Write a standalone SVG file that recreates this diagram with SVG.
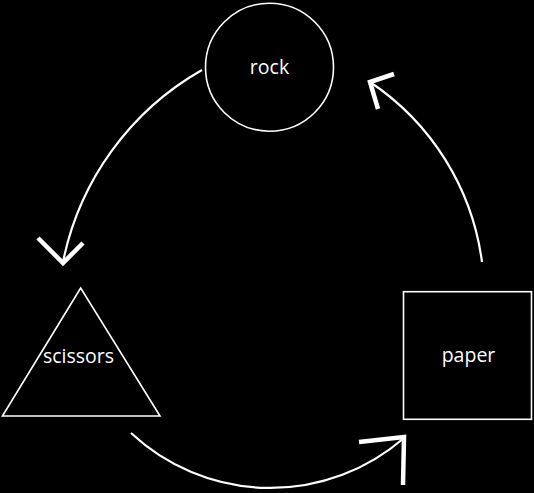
<svg xmlns="http://www.w3.org/2000/svg" width="534" height="493" viewBox="0 0 534 493">
  <style>
    .shape { fill: #000; stroke: #fff; stroke-width: 1.6; }
    .label { fill: #fff; font-family: "Open Sans", "Liberation Sans", sans-serif; font-size: 19.5px; text-anchor: middle; }
    .line { fill: none; stroke: #fff; stroke-width: 2.2; }
    .head { fill: none; stroke: #fff; stroke-width: 4.5; stroke-linejoin: miter; stroke-linecap: butt; }
  </style>
  <rect x="0" y="0" width="534" height="493" fill="#000"/>
  <g id="connectors">
    <path class="line" d="M202,70 A286,286 0 0,0 63,262"/>
    <polyline class="head" points="38,238 63,263 83,243"/>
    <path class="line" d="M482,262 A257,257 0 0,0 370,82"/>
    <polyline class="head" points="394,74 370,82 378,109"/>
    <path class="line" d="M131,433 A204,204 0 0,0 404,438"/>
    <polyline class="head" points="359,442 404,437 403,485"/>
  </g>
  <g id="rock">
    <circle class="shape" cx="269.5" cy="67.2" r="64"/>
    <text class="label" x="269.5" y="74">rock</text>
  </g>
  <g id="scissors">
    <polygon class="shape" points="80.7,288 2.4,416 160,416"/>
    <text class="label" x="78.5" y="363">scissors</text>
  </g>
  <g id="paper">
    <rect class="shape" x="403.5" y="291.7" width="128" height="127.6"/>
    <text class="label" x="468.5" y="362">paper</text>
  </g>
</svg>
